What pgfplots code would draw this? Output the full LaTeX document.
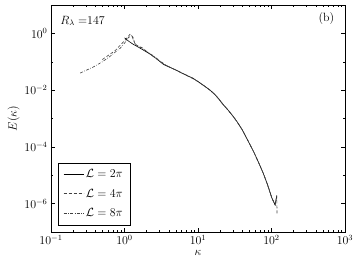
\documentclass[border=0pt]{standalone}
\usepackage{pgfplots}
\pgfplotsset{compat=1.18}
\begin{document}
\begin{tikzpicture}
\begin{loglogaxis}[
  scale only axis, width=294bp, height=227bp,
  xmin=0.1, xmax=1000, ymin=1e-7, ymax=10,
  xtick={0.1,1,10,100,1000},
  ytick={1e-6,1e-4,1e-2,1},
  minor ytick={1e-7,1e-5,1e-3,1e-1,10},
  tick align=inside, tick pos=both,
  major tick length=4bp, minor tick length=2bp,
  every tick/.style={black, line width=0.4pt},
  tick label style={font=\fontsize{12}{14}\selectfont},
  label style={font=\fontsize{12}{14}\selectfont},
  xlabel={$\kappa$}, ylabel={$E(\kappa)$},
  xlabel style={yshift=1bp},
  ylabel style={yshift=-2bp},
  legend style={at={(0.024,0.031)}, anchor=south west, draw=black, row sep=5.5bp,
    inner xsep=5bp, inner ysep=5bp, font=\fontsize{12}{14}\selectfont,
    /tikz/every even column/.append style={column sep=2bp}},
  legend cell align=left,
  legend image code/.code={\draw[#1] (2bp,0bp) -- (22bp,0bp);},
]
\addplot[black, line width=0.6pt] coordinates {
(1.0,0.70) (1.15,0.52) (1.3,0.42) (1.6,0.31) (2.0,0.22) (2.2,0.19) (2.7,0.13) (3.4,0.080)
(4.0,0.066) (5.1,0.050) (6.0,0.040) (7.0,0.033) (8.6,0.026) (10,0.020) (12,0.0145)
(14.6,0.010) (17,0.0070) (19,0.0050) (22,0.0031) (26,0.0019) (30,0.0012) (34,0.00077)
(40,0.00040) (46,0.00020) (51,0.00012) (58,6.2e-5) (66,3e-5) (77,1.2e-5) (88,4.8e-6)
(101,1.6e-6) (112,9e-7) (118,1.9e-6)
};
\addlegendentry{$\mathcal{L}=2\pi$}
\addplot[black!75, line width=0.6pt, dash pattern=on 3bp off 2bp] coordinates {
(0.5,0.12) (0.75,0.25) (1.0,0.55) (1.19,0.93) (1.3,0.75) (1.4,0.40) (1.75,0.31) (2.0,0.23)
(2.5,0.15) (3.0,0.105) (3.5,0.080) (4.0,0.068) (5.0,0.051) (6.0,0.041) (7.0,0.033)
(8.6,0.025) (10,0.020) (12,0.0145) (14.6,0.0098) (17,0.0069) (19,0.0051) (22,0.0031)
(26,0.0019) (30,0.0012) (34,0.00076) (40,0.00040) (46,0.00020) (51,0.00012) (58,6.3e-5)
(66,3e-5) (77,1.2e-5) (88,4.7e-6) (101,1.6e-6) (112,9e-7) (118,1.9e-6) (119,4.3e-7)
};
\addlegendentry{$\mathcal{L}=4\pi$}
\addplot[black!75, line width=0.6pt, dash pattern=on 3bp off 1.5bp on 0.6bp off 1.5bp] coordinates {
(0.25,0.040) (0.375,0.065) (0.5,0.10) (0.625,0.15) (0.75,0.22) (0.875,0.30) (1.0,0.45)
(1.125,0.70) (1.25,0.85) (1.375,0.45) (1.5,0.36) (1.75,0.30) (2.0,0.23) (2.5,0.16)
(3.0,0.11) (3.5,0.082) (4.0,0.067) (5.0,0.051) (6.0,0.040) (7.0,0.034) (8.6,0.026)
(10,0.020) (12,0.0143) (14.6,0.0100) (17,0.0070) (19,0.0050) (22,0.0031) (26,0.0019)
(30,0.0012) (34,0.00077) (40,0.00040) (46,0.00020) (51,0.00012) (58,6.2e-5) (66,3e-5)
(77,1.2e-5) (88,4.8e-6) (101,1.6e-6) (112,9e-7) (118,1.9e-6)
};
\addlegendentry{$\mathcal{L}=8\pi$}
\node[anchor=west, font=\fontsize{12}{14}\selectfont] at (axis description cs:0.02,0.93) {$R_\lambda\;{=}147$};
\node[anchor=east, font=\fontsize{12}{14}\selectfont] at (axis description cs:0.975,0.94) {(b)};
\end{loglogaxis}
\pgfresetboundingbox
\path (-51bp,-30bp) rectangle (309bp,232bp);
\end{tikzpicture}
\end{document}
